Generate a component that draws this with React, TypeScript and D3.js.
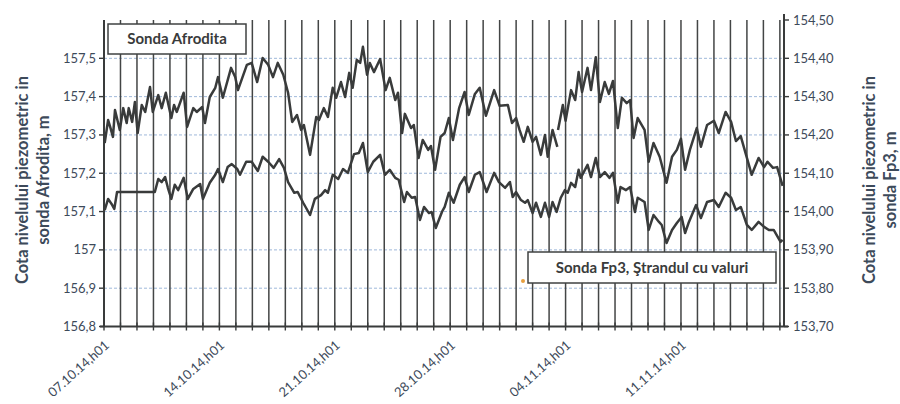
import React from 'react';
import * as d3 from 'd3';

// Hours since 07.10.14 h01 and levels
const afroditaHours = [1, 6, 9, 13, 16, 23, 28, 33, 36, 41, 45, 49, 55, 60, 67, 71, 79, 84, 90, 98, 102, 106, 116, 121, 130, 135, 143, 147, 154, 162, 166, 173, 185, 191, 195, 208, 215, 223, 231, 239, 246, 253, 261, 268, 274, 281, 287, 291, 300, 309, 313, 320, 326, 333, 338, 345, 351, 357, 362, 368, 373, 377, 383, 387, 393, 402, 410, 416, 424, 428, 434, 438, 447, 451, 458, 464, 472, 476, 482, 490, 496, 502, 508, 517, 525, 531, 540, 547, 556, 568, 576, 588, 594, 600, 605, 611, 617, 624, 629, 636, 642, 646, 653, 660, 660.5, 661, 668, 672, 680, 686, 691, 696, 704, 709, 716, 722, 729, 735, 741, 748, 754, 761, 766, 771, 777, 787, 793, 800, 809, 819, 827, 834, 840, 846, 853, 863, 869, 878, 888, 895, 905, 913, 920, 927, 936, 943, 953, 961, 966, 974, 980, 988];
const afroditaLevel: (number | null)[] = [157.279, 157.339, 157.321, 157.295, 157.365, 157.313, 157.37, 157.331, 157.37, 157.334, 157.386, 157.305, 157.378, 157.36, 157.425, 157.36, 157.404, 157.37, 157.41, 157.344, 157.378, 157.36, 157.41, 157.321, 157.37, 157.36, 157.373, 157.331, 157.399, 157.423, 157.451, 157.397, 157.475, 157.451, 157.417, 157.483, 157.488, 157.438, 157.501, 157.483, 157.451, 157.488, 157.457, 157.41, 157.334, 157.352, 157.313, 157.326, 157.248, 157.347, 157.339, 157.37, 157.347, 157.423, 157.397, 157.438, 157.399, 157.462, 157.423, 157.496, 157.488, 157.53, 157.457, 157.488, 157.464, 157.498, 157.417, 157.449, 157.391, 157.41, 157.305, 157.355, 157.318, 157.326, 157.24, 157.287, 157.261, 157.271, 157.209, 157.295, 157.305, 157.344, 157.287, 157.37, 157.412, 157.352, 157.407, 157.423, 157.35, 157.417, 157.376, 157.378, 157.331, 157.344, 157.313, 157.282, 157.321, 157.282, 157.295, 157.248, 157.3, 157.243, 157.313, 157.269, null, 157.313, 157.378, 157.337, 157.417, 157.391, 157.464, 157.412, 157.475, 157.417, 157.503, 157.386, 157.438, 157.407, 157.441, 157.318, 157.397, 157.383, 157.391, 157.292, 157.344, 157.313, 157.23, 157.279, 157.243, 157.175, 157.243, 157.261, 157.29, 157.209, 157.261, 157.318, 157.269, 157.326, 157.337, 157.305, 157.36, 157.334, 157.284, 157.297, 157.24, 157.196, 157.24, 157.216, 157.23, 157.214, 157.216, 157.167];

const fp3Hours = [1, 6, 12, 15, 19, 74, 79, 84, 89, 93, 98, 103, 108, 116, 122, 130, 140, 144, 154, 162, 166, 173, 180, 186, 194, 198, 207, 215, 224, 231, 239, 247, 255, 262, 268, 277, 282, 290, 300, 307, 316, 322, 326, 333, 341, 348, 355, 364, 371, 377, 384, 392, 402, 409, 416, 424, 429, 437, 441, 448, 453, 460, 466, 473, 477, 483, 492, 496, 502, 509, 518, 525, 531, 540, 547, 557, 568, 575, 584, 591, 595, 600, 607, 613, 617, 624, 629, 636, 642, 648, 653, 659, 665, 671, 675, 680, 686, 691, 694, 704, 709, 716, 722, 729, 736, 741, 748, 752, 760, 766, 773, 777, 787, 793, 800, 808, 812, 819, 827, 834, 841, 846, 851, 862, 869, 878, 888, 895, 905, 913, 920, 927, 936, 943, 953, 961, 968, 975, 985, 988];
const fp3Level = [154.004, 154.033, 154.017, 154.007, 154.051, 154.051, 154.085, 154.077, 154.09, 154.062, 154.033, 154.07, 154.056, 154.088, 154.033, 154.059, 154.072, 154.033, 154.075, 154.096, 154.111, 154.077, 154.116, 154.124, 154.111, 154.096, 154.13, 154.13, 154.106, 154.143, 154.13, 154.114, 154.137, 154.114, 154.077, 154.049, 154.051, 154.023, 153.991, 154.033, 154.043, 154.056, 154.049, 154.096, 154.085, 154.111, 154.101, 154.15, 154.153, 154.179, 154.103, 154.13, 154.148, 154.096, 154.109, 154.088, 154.083, 154.025, 154.051, 154.036, 154.038, 153.978, 154.012, 153.996, 153.999, 153.957, 153.999, 154.012, 154.049, 154.023, 154.07, 154.09, 154.051, 154.096, 154.103, 154.051, 154.101, 154.077, 154.062, 154.077, 154.038, 154.051, 154.03, 154.023, 154.03, 153.996, 154.023, 153.986, 154.023, 153.986, 154.025, 153.999, 154.036, 154.056, 154.049, 154.075, 154.064, 154.109, 154.088, 154.122, 154.09, 154.14, 154.09, 154.103, 154.088, 154.101, 154.023, 154.064, 154.056, 154.064, 153.999, 154.036, 154.025, 153.952, 153.991, 153.973, 153.965, 153.918, 153.952, 153.97, 153.986, 153.944, 153.97, 154.017, 153.983, 154.025, 154.03, 154.012, 154.049, 154.036, 154.004, 154.012, 153.965, 153.952, 153.973, 153.96, 153.952, 153.952, 153.921, 153.926];

const leftTicks = [156.8, 156.9, 157, 157.1, 157.2, 157.3, 157.4, 157.5];
const leftTickLabels = ['156,8', '156,9', '157', '157,1', '157,2', '157,3', '157,4', '157,5'];
const rightTicks = [153.7, 153.8, 153.9, 154.0, 154.1, 154.2, 154.3, 154.4, 154.5];
const rightTickLabels = ['153,70', '153,80', '153,90', '154,00', '154,10', '154,20', '154,30', '154,40', '154,50'];
const dateLabelHours = [0, 168, 336, 504, 672, 840];
const dateLabels = ['07.10.14,h01', '14.10.14,h01', '21.10.14,h01', '28.10.14,h01', '04.11.14,h01', '11.11.14,h01'];
const totalHours = 990;
const dayCount = 41;

const FONT = "Lato, 'Open Sans', sans-serif";
const TEXT = '#3d4a5a';
const DARK = '#393b3b';

export default function App() {
  const W = 900, H = 404;
  const left = 104, right = 784, top = 20, bottom = 326.5;
  const x = d3.scaleLinear().domain([0, totalHours]).range([left, right]);
  const yL = d3.scaleLinear().domain([156.8, 157.6]).range([bottom, top]);
  const yR = d3.scaleLinear().domain([153.7, 154.5]).range([bottom, top]);

  const afr = afroditaHours.map((h, i) => [h, afroditaLevel[i]] as [number, number | null]);
  const fp3 = fp3Hours.map((h, i) => [h, fp3Level[i]] as [number, number]);

  const lineA = d3.line<[number, number | null]>()
    .defined(d => d[1] != null)
    .x(d => x(d[0]))
    .y(d => yL(d[1] as number));
  const lineF = d3.line<[number, number]>()
    .x(d => x(d[0]))
    .y(d => yR(d[1]));

  const days = d3.range(0, dayCount + 1);

  return (
    <svg width={W} height={H} style={{ position: 'fixed', left: 0, top: 0, background: '#fff' }} fontFamily={FONT}>
      <rect x={0} y={0} width={W} height={H} fill="#fff" />
      {/* horizontal gridlines */}
      {leftTicks.slice(1).map(t => (
        <line key={'hg' + t} x1={left} x2={right} y1={yL(t)} y2={yL(t)} stroke="#9fb8da" strokeWidth={1} strokeDasharray="3 2" />
      ))}
      {/* vertical day gridlines */}
      {days.slice(1).map(d => (
        <line key={'vg' + d} x1={x(d * 24)} x2={x(d * 24)} y1={top} y2={bottom} stroke="#434545" strokeWidth={1.5} />
      ))}
      {/* series */}
      <path d={lineA(afr) || ''} fill="none" stroke={DARK} strokeWidth={2.5} strokeLinejoin="round" />
      <path d={lineF(fp3) || ''} fill="none" stroke={DARK} strokeWidth={2.5} strokeLinejoin="round" />
      {/* axes */}
      <line x1={left} x2={left} y1={top} y2={bottom} stroke={DARK} strokeWidth={2} />
      <line x1={right} x2={right} y1={top - 6} y2={bottom} stroke={DARK} strokeWidth={2} />
      <line x1={left - 4} x2={right + 4} y1={bottom} y2={bottom} stroke={DARK} strokeWidth={2} />
      {days.map(d => (
        <line key={'xt' + d} x1={x(d * 24)} x2={x(d * 24)} y1={bottom - 4} y2={bottom + 4} stroke={DARK} strokeWidth={1.4} />
      ))}
      {leftTicks.map((t, i) => (
        <g key={'lt' + t}>
          <line x1={left - 5} x2={left} y1={yL(t)} y2={yL(t)} stroke={DARK} strokeWidth={1.4} />
          <text x={left - 8} y={yL(t)} dy="0.35em" textAnchor="end" fontSize={13} fill={TEXT}>{leftTickLabels[i]}</text>
        </g>
      ))}
      {rightTicks.map((t, i) => (
        <g key={'rt' + t}>
          <line x1={right} x2={right + 5} y1={yR(t)} y2={yR(t)} stroke={DARK} strokeWidth={1.4} />
          <text x={right + 9} y={yR(t)} dy="0.35em" textAnchor="start" fontSize={13} fill={TEXT}>{rightTickLabels[i]}</text>
        </g>
      ))}
      {dateLabelHours.map((h, i) => (
        <text key={'dl' + h} transform={`translate(${x(h) + 6},${bottom + 20}) rotate(-42)`} textAnchor="end" fontSize={13} fill={TEXT}>{dateLabels[i]}</text>
      ))}
      {/* axis titles */}
      <g transform={`translate(28,180) rotate(-90)`} fontWeight="bold" fontSize={16.5} fill={TEXT} textAnchor="middle">
        <text x={0} y={0}>Cota nivelului piezometric in</text>
        <text x={0} y={21}>sonda Afrodita,  m</text>
      </g>
      <g transform={`translate(875,180) rotate(-90)`} fontWeight="bold" fontSize={16.5} fill={TEXT} textAnchor="middle">
        <text x={0} y={0}>Cota nivelului piezometric in</text>
        <text x={0} y={21}>sonda Fp3,  m</text>
      </g>
      {/* legend boxes */}
      <g>
        <rect x={108} y={24} width={138} height={30} fill="#fff" stroke="#3f4242" strokeWidth={1.5} />
        <text x={177} y={44} textAnchor="middle" fontWeight="bold" fontSize={15} fill={DARK}>Sonda Afrodita</text>
      </g>
      <g>
        <rect x={528} y={252} width={248} height={31} fill="#fff" stroke="#3f4242" strokeWidth={1.5} />
        <text x={652} y={273} textAnchor="middle" fontWeight="bold" fontSize={15} fill={DARK}>Sonda Fp3, Ştrandul cu valuri</text>
        <circle cx={523} cy={281} r={2} fill="#e8a040" />
      </g>
    </svg>
  );
}
